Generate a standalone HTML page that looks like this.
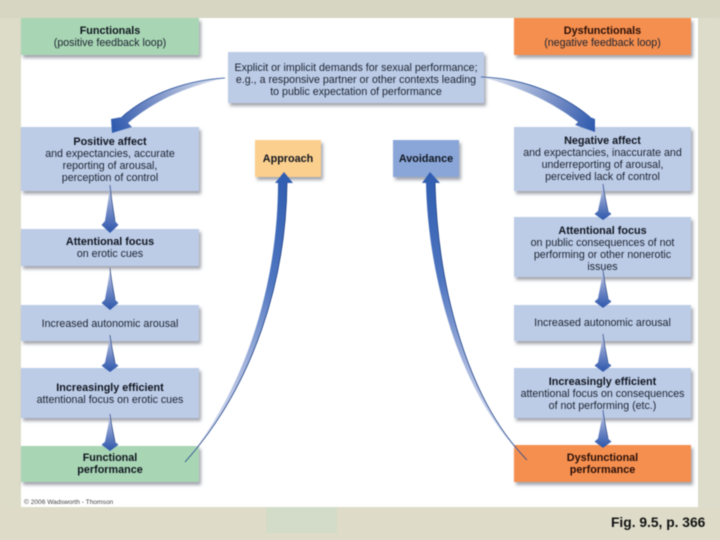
<!DOCTYPE html>
<html>
<head>
<meta charset="utf-8">
<style>
html,body{margin:0;padding:0;}
body{width:720px;height:540px;overflow:hidden;position:relative;background:#dcdcc8;font-family:"Liberation Sans",Arial,sans-serif;}
.bg{position:absolute;}
.panel{position:absolute;left:21px;top:18px;width:677px;height:489px;background:#fff;}
.b{position:absolute;box-shadow:2px 3px 3px rgba(90,95,110,.55);color:#1c2230;font-size:10.65px;line-height:12px;text-align:center;white-space:nowrap;}
.bl{background:#bccce7;}
.gr{background:#a8d6b4;}
.or{background:#f58f4f;}
.t{position:absolute;left:0;right:0;}
b{font-weight:bold;color:#10151f;font-size:10.8px;}
svg{position:absolute;left:0;top:0;}
.copy{position:absolute;left:24px;top:499px;font-size:6.6px;line-height:8px;color:#444;}
.fig{position:absolute;left:611px;top:515px;font-size:13.8px;line-height:16px;font-weight:bold;color:#111;white-space:nowrap;}
.wrap{position:absolute;left:0;top:0;width:720px;height:540px;filter:blur(0.4px);}
</style>
</head>
<body>
<div class="wrap">
<div class="bg" style="left:0;top:0;width:720px;height:18px;background:#d6d6c2;"></div>
<div class="bg" style="left:0;top:18px;width:21px;height:522px;background:#dcdcc8;"></div>
<div class="bg" style="left:698px;top:18px;width:22px;height:522px;background:#dddcca;"></div>
<div class="bg" style="left:0;top:507px;width:720px;height:33px;background:#dedcc9;"></div>
<div class="bg" style="left:266px;top:507px;width:71px;height:26px;background:#d2dcc9;"></div>
<div class="panel"></div>

<div class="b gr" style="left:21px;top:18px;width:178px;height:37px;"><div class="t" style="top:7px;"><b>Functionals</b><br>(positive feedback loop)</div></div>
<div class="b or" style="left:514px;top:18px;width:177px;height:37px;"><div class="t" style="top:7px;"><b style="color:#2a0f08;">Dysfunctionals</b><br>(negative feedback loop)</div></div>
<div class="b bl" style="left:228px;top:52px;width:256px;height:51px;"><div class="t" style="top:10px;">Explicit or implicit demands for sexual performance;<br>e.g., a responsive partner or other contexts leading<br>to public expectation of performance</div></div>

<div class="b bl" style="left:21px;top:127px;width:178px;height:64px;"><div class="t" style="top:9px;"><b>Positive affect</b><br>and expectancies, accurate<br>reporting of arousal,<br>perception of control</div></div>
<div class="b bl" style="left:21px;top:229px;width:178px;height:37px;"><div class="t" style="top:7px;"><b>Attentional focus</b><br>on erotic cues</div></div>
<div class="b bl" style="left:21px;top:305px;width:178px;height:36px;"><div class="t" style="top:13px;">Increased autonomic arousal</div></div>
<div class="b bl" style="left:21px;top:368px;width:178px;height:50px;"><div class="t" style="top:14px;"><b>Increasingly efficient</b><br>attentional focus on erotic cues</div></div>
<div class="b gr" style="left:21px;top:446px;width:178px;height:36px;"><div class="t" style="top:6px;"><b>Functional<br>performance</b></div></div>

<div class="b" style="left:255px;top:140px;width:66px;height:37px;background:#fbcf8e;"><div class="t" style="top:13px;"><b>Approach</b></div></div>
<div class="b" style="left:393px;top:140px;width:66px;height:37px;background:#8aa6d8;"><div class="t" style="top:13px;"><b>Avoidance</b></div></div>

<div class="b bl" style="left:514px;top:127px;width:177px;height:64px;"><div class="t" style="top:8px;"><b>Negative affect</b><br>and expectancies, inaccurate and<br>underreporting of arousal,<br>perceived lack of control</div></div>
<div class="b bl" style="left:514px;top:217px;width:177px;height:60px;"><div class="t" style="top:8px;"><b>Attentional focus</b><br>on public consequences of not<br>performing or other nonerotic<br>issues</div></div>
<div class="b bl" style="left:514px;top:305px;width:177px;height:36px;"><div class="t" style="top:12px;">Increased autonomic arousal</div></div>
<div class="b bl" style="left:514px;top:368px;width:177px;height:50px;"><div class="t" style="top:8px;"><b>Increasingly efficient</b><br>attentional focus on consequences<br>of not performing (etc.)</div></div>
<div class="b or" style="left:514px;top:445px;width:177px;height:37px;"><div class="t" style="top:7px;"><b style="color:#2a0f08;">Dysfunctional<br>performance</b></div></div>

<svg width="720" height="540" viewBox="0 0 720 540">
<defs>
<linearGradient id="gl" x1="225" y1="78" x2="112" y2="133" gradientUnits="userSpaceOnUse">
<stop offset="0" stop-color="#dfe4f0"/><stop offset=".35" stop-color="#a4b4d8"/><stop offset=".7" stop-color="#6480bf"/><stop offset="1" stop-color="#2a57ad"/>
</linearGradient>
<linearGradient id="gr" x1="481" y1="78" x2="596" y2="132" gradientUnits="userSpaceOnUse">
<stop offset="0" stop-color="#dfe4f0"/><stop offset=".35" stop-color="#a4b4d8"/><stop offset=".7" stop-color="#6480bf"/><stop offset="1" stop-color="#2a57ad"/>
</linearGradient>
<linearGradient id="ga" x1="284" y1="172" x2="185" y2="462" gradientUnits="userSpaceOnUse">
<stop offset="0" stop-color="#2f5db0"/><stop offset=".35" stop-color="#4f76c0"/><stop offset=".65" stop-color="#a6b6de"/><stop offset="1" stop-color="#eef1f8"/>
</linearGradient>
<linearGradient id="gv" x1="430" y1="172" x2="527" y2="460" gradientUnits="userSpaceOnUse">
<stop offset="0" stop-color="#2f5db0"/><stop offset=".35" stop-color="#4f76c0"/><stop offset=".65" stop-color="#a6b6de"/><stop offset="1" stop-color="#eef1f8"/>
</linearGradient>
<linearGradient id="gs" x1="0" y1="0" x2="0" y2="1">
<stop offset="0" stop-color="#c5cfe8"/><stop offset=".55" stop-color="#7089c6"/><stop offset="1" stop-color="#2c55aa"/>
</linearGradient>
<g id="sm">
<path d="M0 0 C1 12 3.5 26 5 36 L8.5 40 L0 48 L-8.5 40 L-5 36 C-3.5 26 -1 12 0 0 Z" fill="url(#gs)"/>
<path d="M0 0 C1 12 3.5 26 5 36" fill="none" stroke="#23407f" stroke-width=".7"/>
</g>
</defs>

<path d="M225 78 C190 80 150 92 122 117 L111 119 L112 133 L132 127 L128 123 C152 103 180 88 225 78 Z" fill="url(#gl)"/>
<path d="M225 78 C190 80 150 92 122 117" fill="none" stroke="#1f4a96" stroke-width=".8"/>

<path d="M481 77 C520 78 560 92 590 117 L595 119 L595 132 L575 125 L578 122 C556 105 525 88 481 77 Z" fill="url(#gr)"/>
<path d="M481 77 C520 78 560 92 590 117" fill="none" stroke="#1f4a96" stroke-width=".8"/>

<path d="M284 172 L293 183 L287 183 C286 280 254 385 185 462 C248 385 278 280 278 183 L275 183 Z" fill="url(#ga)"/>
<path d="M287 183 C286 280 254 385 185 462" fill="none" stroke="#1c3f86" stroke-width=".8"/>

<path d="M430 172 L440 183 L435 183 C438 290 468 400 527 460 C462 400 428 280 426 183 L422 183 Z" fill="url(#gv)"/>
<path d="M435 183 C438 290 468 400 527 460" fill="none" stroke="#1c3f86" stroke-width=".8"/>

<use href="#sm" x="110" y="185"/>
<use href="#sm" transform="translate(110 268) scale(1 .875)"/>
<use href="#sm" transform="translate(110 335) scale(1 .77)"/>
<use href="#sm" transform="translate(110 414) scale(1 .77)"/>
<use href="#sm" transform="translate(603 184) scale(1 .75)"/>
<use href="#sm" transform="translate(603 270) scale(1 .79)"/>
<use href="#sm" transform="translate(603 334) scale(1 .79)"/>
<use href="#sm" transform="translate(603 410) scale(1 .79)"/>
</svg>

<div class="copy">© 2006 Wadsworth - Thomson</div>
<div class="fig">Fig. 9.5, p. 366</div>
</div>
</body>
</html>
